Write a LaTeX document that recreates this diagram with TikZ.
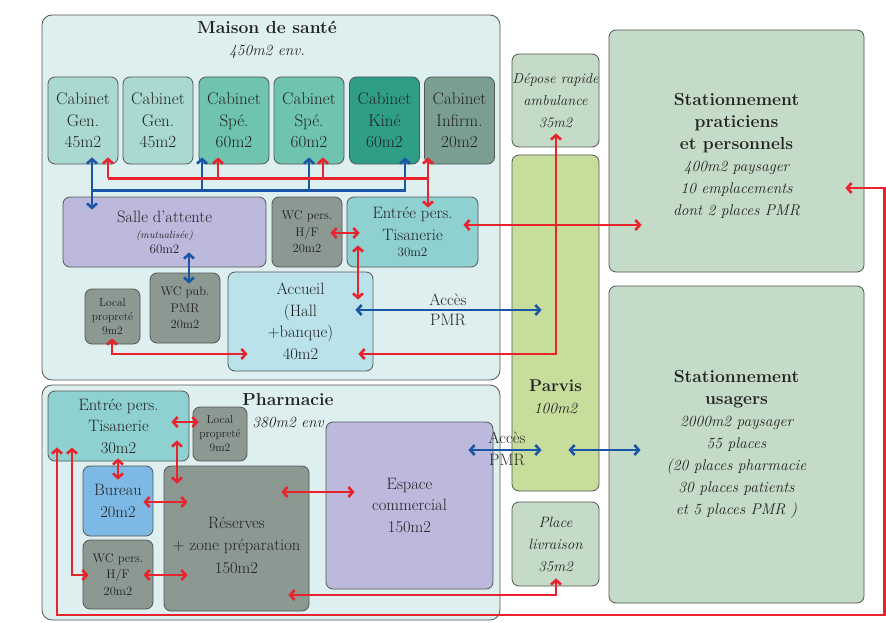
\documentclass[tikz,border=0pt]{standalone}
\usetikzlibrary{arrows.meta}
\definecolor{outerfill}{HTML}{DDEFEE}
\definecolor{edge}{HTML}{555555}
\definecolor{cabA}{HTML}{A9D9D1}
\definecolor{cabB}{HTML}{6FC4B0}
\definecolor{cabC}{HTML}{2F9E86}
\definecolor{cabD}{HTML}{7A9F92}
\definecolor{lav}{HTML}{BDB9DD}
\definecolor{grayroom}{HTML}{8B9992}
\definecolor{entreec}{HTML}{8FD0D1}
\definecolor{accueilc}{HTML}{BAE2EA}
\definecolor{bureauc}{HTML}{7EB9E6}
\definecolor{greenlight}{HTML}{C4DBC7}
\definecolor{parvisc}{HTML}{C7DD9C}
\definecolor{ared}{HTML}{E8232B}
\definecolor{ablue}{HTML}{1B55A5}
\definecolor{txt}{HTML}{222222}
\begin{document}
\begin{tikzpicture}[x=1pt,y=-1pt,
  room/.style={draw=edge, line width=0.8pt, rounded corners=7pt, text=txt, align=center, inner sep=0pt, font=\fontsize{16.5}{21.5}\selectfont},
  cabroom/.style={room, font=\fontsize{17}{21.5}\selectfont, minimum width=70pt, minimum height=87pt},
  area/.style={draw=edge, line width=0.8pt, rounded corners=10pt, fill=outerfill},
  smallroom/.style={font=\fontsize{12.5}{16.5}\selectfont},
  tinyroom/.style={font=\fontsize{11.5}{14}\selectfont},
  lbl/.style={text=txt, align=center, inner sep=0pt},
  rl/.style={draw=ared, line width=2.6pt, >={Straight Barb[length=4.5pt,width=10pt]}},
  bl/.style={draw=ablue, line width=2.6pt, >={Straight Barb[length=4.5pt,width=10pt]}},
]
\useasboundingbox (0,0) rectangle (886,623);
\fill[white] (0,0) rectangle (886,623);

% areas
\node[area, minimum width=458pt, minimum height=365pt] (maison) at (271,197.5) {};
\node[area, minimum width=458pt, minimum height=235pt] (pharma) at (271,502.5) {};
\node[lbl, font=\fontsize{17.5}{22}\selectfont] (maisontitle) at (267,40) {\textbf{Maison de santé}\\{\fontsize{15.5}{22}\selectfont\itshape 450m2 env.}};
\node[lbl, font=\fontsize{17.5}{22}\selectfont] (pharmatitle) at (288,411) {\textbf{Pharmacie}\\{\fontsize{15.5}{22}\selectfont\itshape 380m2 env}};

% cabinets
\node[cabroom, fill=cabA] (cab1) at (83,120.5) {Cabinet\\Gen.\\45m2};
\node[cabroom, fill=cabA] (cab2) at (158,120.5) {Cabinet\\Gen.\\45m2};
\node[cabroom, fill=cabB] (cab3) at (234,120.5) {Cabinet\\Spé.\\60m2};
\node[cabroom, fill=cabB] (cab4) at (309,120.5) {Cabinet\\Spé.\\60m2};
\node[cabroom, fill=cabC] (cab5) at (384.5,120.5) {Cabinet\\Kiné\\60m2};
\node[cabroom, fill=cabD] (cab6) at (459.5,120.5) {Cabinet\\Infirm.\\20m2};

% maison row 2
\node[room, fill=lav, minimum width=203pt, minimum height=70pt] (salle) at (164.5,232) {Salle d’attente\\[-5pt]{\fontsize{10.5}{14}\selectfont\itshape (mutualisée)}\\[-7pt]{\fontsize{13}{16}\selectfont 60m2}};
\node[room, smallroom, fill=grayroom, minimum width=70pt, minimum height=70pt] (wcpers) at (307,232) {WC pers.\\H/F\\20m2};
\node[room, fill=entreec, minimum width=131pt, minimum height=70pt] (entree1) at (412.5,232) {Entrée pers.\\Tisanerie\\[-5pt]{\fontsize{13}{16}\selectfont 30m2}};
\node[room, smallroom, fill=grayroom, minimum width=70pt, minimum height=70pt] (wcpub) at (185,308) {WC pub.\\PMR\\20m2};
\node[room, tinyroom, fill=grayroom, minimum width=55pt, minimum height=55pt] (local1) at (112.5,316.5) {Local\\propreté\\9m2};
\node[room, fill=accueilc, minimum width=145pt, minimum height=99pt] (accueil) at (300.5,321.5) {Accueil\\(Hall\\+banque)\\40m2};

% pharmacie rooms
\node[room, fill=entreec, minimum width=141pt, minimum height=70pt] (entree2) at (118.5,426) {Entrée pers.\\Tisanerie\\30m2};
\node[room, tinyroom, fill=grayroom, minimum width=54pt, minimum height=54pt] (local2) at (220,434) {Local\\propreté\\9m2};
\node[room, fill=bureauc, minimum width=70pt, minimum height=70pt] (bureau) at (118,501) {Bureau\\20m2};
\node[room, smallroom, fill=grayroom, minimum width=70pt, minimum height=69pt] (wcpers2) at (118,574.5) {WC pers.\\H/F\\20m2};
\node[room, fill=grayroom, minimum width=145pt, minimum height=145pt] (reserves) at (236.5,538.5) {};
\node[lbl, font=\fontsize{16.5}{22.5}\selectfont] (reservestext) at (236.5,545) {Réserves\\+ zone préparation\\150m2};
\node[room, fill=lav, minimum width=167pt, minimum height=167pt] (espace) at (409.5,505.5) {Espace\\commercial\\150m2};

% right column
\node[room, fill=greenlight, minimum width=87pt, minimum height=93pt, font=\fontsize{14.5}{22}\selectfont\itshape] (depose) at (555.5,100.5) {Dépose rapide\\ambulance\\35m2};
\node[room, fill=parvisc, minimum width=87pt, minimum height=336pt] (parvis) at (555.5,323) {};
\node[lbl, font=\fontsize{17}{21.5}\selectfont] (parvistext) at (555.5,397) {\textbf{Parvis}\\{\fontsize{15.5}{21}\selectfont\itshape 100m2}};
\node[room, fill=greenlight, minimum width=87pt, minimum height=84pt, font=\fontsize{15}{22}\selectfont\itshape] (livraison) at (555.5,544) {Place\\livraison\\35m2};
\node[room, fill=greenlight, minimum width=255pt, minimum height=242pt] (statprat) at (736.5,151) {};
\node[lbl, font=\fontsize{15.5}{22}\selectfont\itshape] (statpratext) at (736.5,156) {{\fontsize{17.5}{22}\selectfont\upshape\bfseries Stationnement}\\{\fontsize{17.5}{22}\selectfont\upshape\bfseries praticiens}\\{\fontsize{17.5}{22}\selectfont\upshape\bfseries et personnels}\\400m2 paysager\\10 emplacements\\dont 2 places PMR};
\node[room, fill=greenlight, minimum width=255pt, minimum height=317pt, font=\fontsize{15.5}{22}\selectfont\itshape] (statusag) at (736.5,444.5) {{\fontsize{17.5}{22}\selectfont\upshape\bfseries Stationnement}\\{\fontsize{17.5}{22}\selectfont\upshape\bfseries usagers}\\2000m2 paysager\\55 places\\(20 places pharmacie\\30 places patients\\et 5 places PMR )};

% access labels
\node[lbl, font=\fontsize{16.5}{20.5}\selectfont] (acces1) at (448,310) {Accès\\PMR};
\node[lbl, font=\fontsize{16.5}{21.5}\selectfont] (acces2) at (507,449) {Accès\\PMR};

% blue connectors
\draw[bl,<->] ([shift={(9,-7)}]cab1.south) -- ([shift={(-72.5,13)}]salle.north);
\draw[bl,->] ([shift={(9,26)}]cab1.south) -| ([shift={(-32,-7)}]cab3.south);
\draw[bl,->] ([shift={(9,26)}]cab1.south) -| ([shift={(0,-7)}]cab4.south);
\draw[bl,->] ([shift={(9,26)}]cab1.south) -| ([shift={(20.5,-7)}]cab5.south);
\draw[bl,<->] ([shift={(24.5,-15)}]salle.south) -- ([shift={(4,11)}]wcpub.north);
\draw[bl,<->] ([shift={(-18,-11.5)}]accueil.east) -- ([shift={(30,-13)}]parvis.west);
\draw[bl,<->] ([shift={(-25,-55.5)}]espace.east) -- ([shift={(30,127)}]parvis.west);
\draw[bl,<->] ([shift={(-31,127)}]parvis.east) -- ([shift={(32,5.5)}]statusag.west);

% red connectors
\draw[rl,->] ([shift={(25,14)}]cab1.south) -- ([shift={(25,-7)}]cab1.south);
\draw[rl,->] ([shift={(25,14)}]cab1.south) -| ([shift={(-16,-7)}]cab3.south);
\draw[rl,->] ([shift={(25,14)}]cab1.south) -| ([shift={(14,-7)}]cab4.south);
\draw[rl,->] ([shift={(25,14)}]cab1.south) -| ([shift={(-31.5,-7)}]cab6.south);
\draw[rl,->] ([shift={(-31.5,14)}]cab6.south) -- ([shift={(15.5,11)}]entree1.north);
\draw[rl,<->] ([shift={(-12,1)}]wcpers.east) -- ([shift={(13,1)}]entree1.west);
\draw[rl,<->] ([shift={(-15,-7)}]entree1.east) -- ([shift={(33,74)}]statprat.west);
\draw[rl,<->] ([shift={(-54.5,-22)}]entree1.south) -- ([shift={(57.5,28)}]accueil.north);
\draw[rl,<->] ([shift={(-0.5,-6)}]local1.south) |- ([shift={(20,32.5)}]accueil.west);
\draw[rl,<->] ([shift={(-15,32.5)}]accueil.east) -| ([shift={(0.5,-14)}]depose.south);
\draw[rl,<->] ([shift={(-18,-4)}]entree2.east) -- ([shift={(6,-12)}]local2.west);
\draw[rl,<->] ([shift={(58.5,-21)}]entree2.south) -- ([shift={(-59.5,18)}]reserves.north);
\draw[rl,<->] ([shift={(-0.5,-3)}]entree2.south) -- ([shift={(0,14)}]bureau.north);
\draw[rl,<->] ([shift={(-10,1)}]bureau.east) -- ([shift={(24,-36.5)}]reserves.west);
\draw[rl,<->] ([shift={(-10,0.5)}]wcpers2.east) -- ([shift={(24,36.5)}]reserves.west);
\draw[rl,<->] ([shift={(-46.5,-14)}]entree2.south) |- ([shift={(6,0.5)}]wcpers2.west);
\draw[rl,<->] ([shift={(-28,-46.5)}]reserves.east) -- ([shift={(29,-13.5)}]espace.west);
\draw[rl,<->] ([shift={(-21,56.5)}]reserves.east) -| ([shift={(0.5,-8)}]livraison.south);
\coordinate (loopcorner) at (884.5,615);
\draw[rl,<->] ([shift={(-61.5,-14)}]entree2.south) |- (loopcorner) |- ([shift={(-19,37)}]statprat.east);
\end{tikzpicture}
\end{document}
